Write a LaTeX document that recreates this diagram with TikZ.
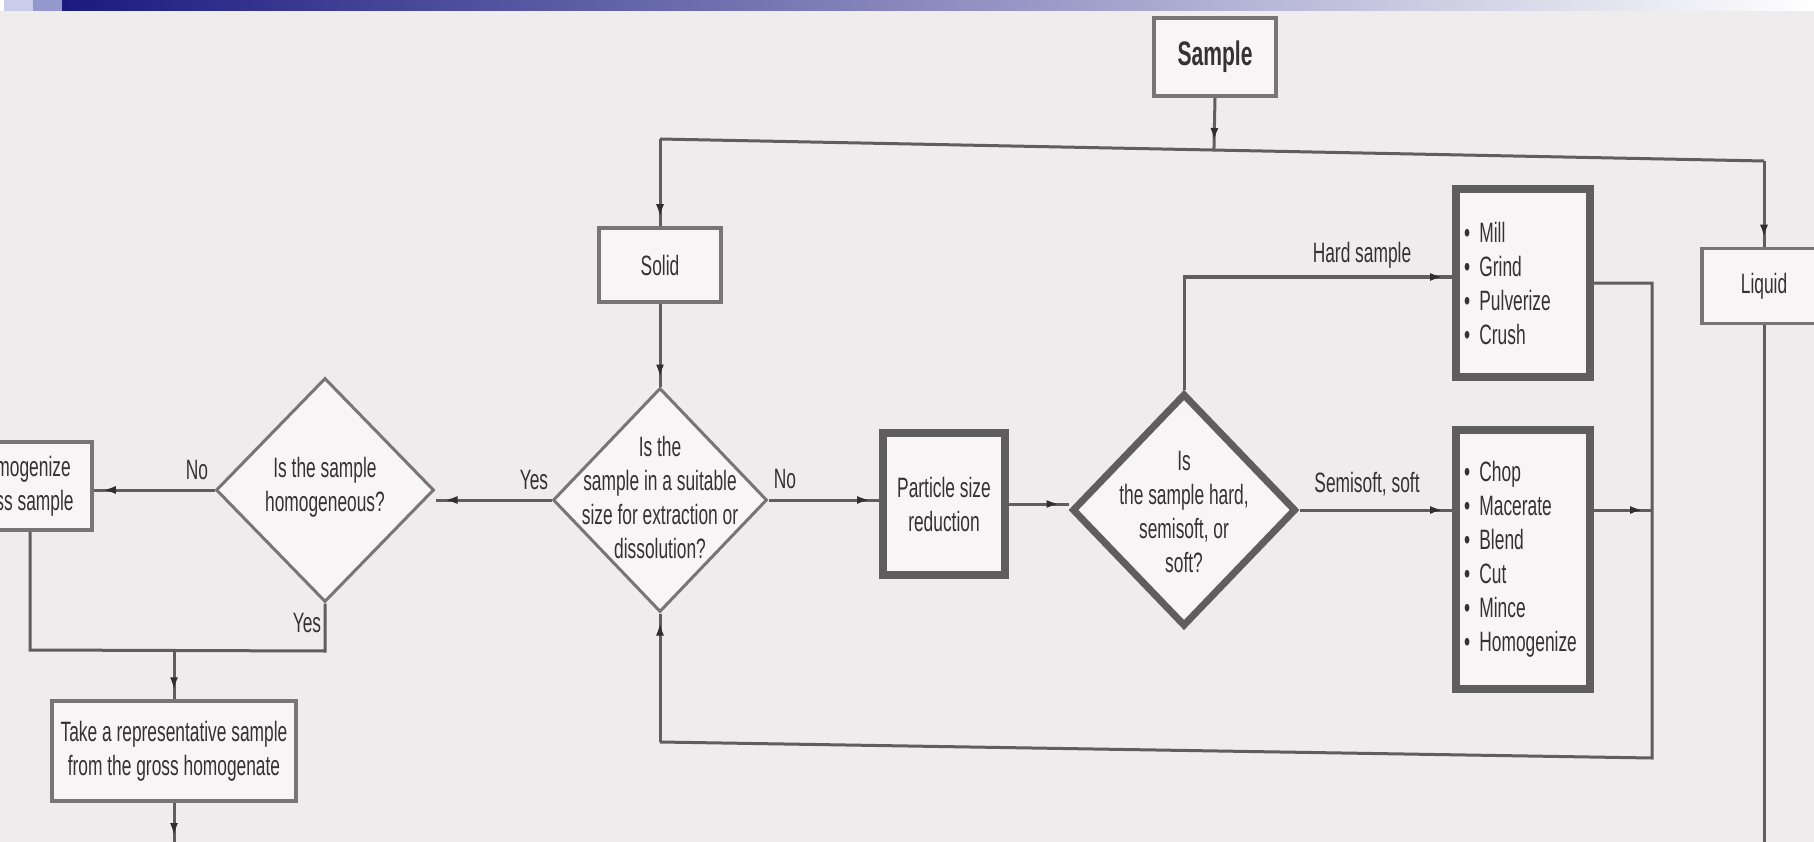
\documentclass[tikz,border=0pt]{standalone}
\usepackage{fontspec}
\setmainfont{Liberation Sans}[FakeStretch=0.62]
\usetikzlibrary{shapes.geometric,arrows.meta,decorations.markings,calc}
\definecolor{bgc}{HTML}{EEECEC}
\definecolor{boxf}{HTML}{F7F5F5}
\definecolor{ln}{HTML}{5E5E5E}
\definecolor{txtc}{HTML}{333333}
\definecolor{navy}{HTML}{1A1A80}
\definecolor{sqa}{HTML}{C9CCEA}
\definecolor{sqb}{HTML}{9598CC}
\definecolor{midbar}{HTML}{7A7CA8}
\begin{document}
\begin{tikzpicture}[x=1pt,y=-1pt,
  every node/.style={font=\fontsize{28}{34}\selectfont, text=txtc},
  conn/.style={draw=ln, line width=3pt},
  arr/.style={conn, postaction={decorate,decoration={markings,mark=at position -9pt with {\arrow[ln!50!black]{Latex[length=13pt,width=8pt]}}}}},
  plainbox/.style={draw=ln!85, line width=3.5pt, fill=boxf, inner sep=0pt},
  heavybox/.style={draw=ln, line width=8pt, fill=boxf, inner sep=0pt},
  dia/.style={diamond, draw=ln!85, line width=3pt, fill=boxf, inner sep=0pt},
  lbl/.style={inner sep=0pt}
]
\clip (0,0) rectangle (1814,842);
\fill[bgc] (0,0) rectangle (1814,842);
% top bar
\fill[white] (0,0) rectangle (1814,11);
\fill[sqa] (4,0) rectangle (33,11);
\fill[sqb] (33,0) rectangle (62,11);
\shade[left color=navy, middle color=midbar, right color=white] (62,0) rectangle (1814,11);

% nodes
\node[plainbox, minimum width=122pt, minimum height=78pt] (sample) at (1215,57) {\fontsize{34}{40}\selectfont\bfseries Sample};
\node[plainbox, minimum width=122pt, minimum height=74pt] (solid) at (660,265) {Solid};
\node[plainbox, minimum width=124pt, minimum height=75pt] (liquid) at (1764,286) {Liquid};
\node[dia, minimum width=214pt, minimum height=224pt] (d1) at (660,500) {};
\node[lbl, align=center] at (660,497) {Is the\\sample in a suitable\\size for extraction or\\dissolution?};
\node[dia, minimum width=218pt, minimum height=224pt] (d2) at (325,490) {};
\node[lbl, align=center] at (325,487) {Is the sample\\homogeneous?};
\node[plainbox, minimum width=140pt, minimum height=88pt, align=center] (homog) at (22,486) {Homogenize\\gross sample};
\node[plainbox, minimum width=244pt, minimum height=100pt, align=center] (take) at (174,751) {Take a representative sample\\from the gross homogenate};
\node[heavybox, minimum width=122pt, minimum height=142pt, align=center] (psr) at (944,504) {Particle size\\reduction};
\node[dia, draw=ln, line width=7pt, minimum width=224pt, minimum height=233pt] (d3) at (1184,510) {};
\node[lbl, align=center] at (1184,512) {Is\\the sample hard,\\semisoft, or\\soft?};
\node[heavybox, minimum width=134pt, minimum height=187pt, text width=118pt, align=left] (mill) at (1523,283) {\textbullet\ Mill\\\textbullet\ Grind\\\textbullet\ Pulverize\\\textbullet\ Crush};
\node[heavybox, minimum width=134pt, minimum height=259pt, text width=118pt, align=left] (chop) at (1523,559) {\textbullet\ Chop\\\textbullet\ Macerate\\\textbullet\ Blend\\\textbullet\ Cut\\\textbullet\ Mince\\\textbullet\ Homogenize};

% labels
\node[lbl] (ly1) at (534,480) {Yes};
\node[lbl] (ln1) at (785,479) {No};
\node[lbl] (ln2) at (197,470) {No};
\node[lbl] (ly2) at (307,623) {Yes};
\node[lbl] (lhs) at (1362,255) {Hard sample};
\node[lbl] (lss) at (1367,484) {Semisoft, soft};

% coordinates
\coordinate (tl) at (660,139);
\coordinate (tr) at (1764,161);
\coordinate (rb) at (1652,758);
\coordinate (lb) at (660,742);
\coordinate (hb) at (30,650);
\coordinate (yb) at (325,651);
\coordinate (tb) at (174,845);
\coordinate (lq) at (1764,850);

% connectors
\draw[conn] (tl) -- (tr);
\draw[arr] (sample.south) -- ($(tl)!(sample.south)!(tr)$);
\draw[arr] (tl) -- (solid.north);
\draw[arr] (tr) -- (liquid.north);
\draw[conn] (liquid.south) -- (lq);
\draw[arr] (solid.south) -- (d1.north);
\draw[arr] (d1.west) -- (d1.west -| d2.east);
\draw[arr] (d1.east) -- (d1.east -| psr.west);
\draw[arr] (psr.east) -- (psr.east -| d3.west);
\draw[arr] (d3.north) |- ($(mill.west)+(0,-6)$);
\draw[arr] (d3.east) -- (d3.east -| chop.west);
\draw[conn] (mill.east) -- (mill.east -| rb) -- (rb) -- (lb);
\draw[arr] (lb) -- (d1.south);
\draw[arr] (chop.east |- d3.east) -- (rb |- d3.east);
\draw[arr] (d2.west) -- (d2.west -| homog.east);
\draw[conn] (homog.south -| hb) -- (hb) -- (yb) -- (d2.south);
\draw[arr] (hb -| take.north) -- (take.north);
\draw[arr] (take.south) -- (tb);
\end{tikzpicture}
\end{document}
